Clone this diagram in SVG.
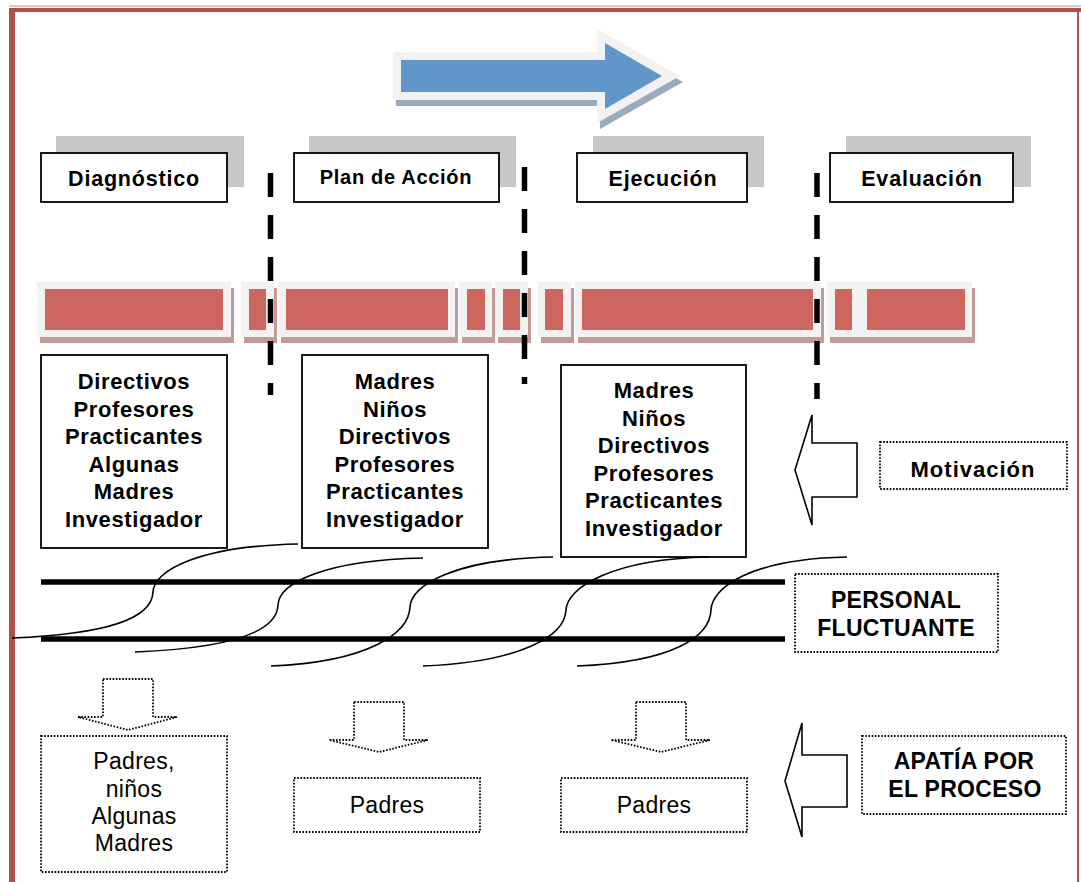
<svg xmlns="http://www.w3.org/2000/svg" width="1081" height="882" viewBox="0 0 1081 882">
<style>
.b{font-family:"Liberation Sans",Arial,sans-serif;font-weight:bold;text-anchor:middle;fill:#000}
.r{font-family:"Liberation Sans",Arial,sans-serif;text-anchor:middle;fill:#000}
.ph{font-size:21.5px;letter-spacing:0.8px}
.mb{font-size:22px;letter-spacing:0.6px}
.lb{font-size:23px;letter-spacing:0.3px}
.rg{font-size:23px;letter-spacing:0.3px}
.solid{fill:#fff;stroke:#000;stroke-width:1.8}
.dot{fill:#fff;stroke:#000;stroke-width:1.8;stroke-dasharray:1.6 1.6}
.shd{fill:#c8c8c8}
.vd{stroke:#000;stroke-width:5.5;stroke-dasharray:24 18;fill:none}
.thick{stroke:#000;stroke-width:5.5}
.crv{fill:none;stroke:#000;stroke-width:1.6}
.bs{fill:#c49a98}
.bo{fill:#f2f2f2}
.br{fill:#cd665f}
.hol{fill:#fff;stroke:#000;stroke-width:1.6;stroke-linejoin:miter}
</style>
<rect x="0" y="0" width="1081" height="882" fill="#fff"/>
<g id="frame">
<rect x="9" y="5" width="1072" height="2" fill="#e8c4c2"/>
<rect x="9" y="8" width="1072" height="4" fill="#b0504b"/>
<rect x="9" y="8" width="6" height="874" fill="#b0504b"/>
<rect x="1077" y="8" width="2" height="874" fill="#b0504b"/>
</g>
<g id="process-arrow">
<polygon points="393,52 597,52 597,29 680,76 597,123 597,100 393,100" fill="#9aabbd" transform="translate(3,6)"/>
<polygon points="393,52 597,52 597,29 680,76 597,123 597,100 393,100" fill="#f2f2f2"/>
<polygon points="401,60 605,60 605,43 662,76 605,109 605,92 401,92" fill="#6196c9"/>
</g>
<g id="phase-diagnostico">
<rect class="shd" x="56" y="136" width="188" height="51"/>
<rect class="solid" x="41" y="153" width="186" height="49"/>
<text class="b ph" x="134" y="186">Diagnóstico</text>
</g>
<g id="phase-plan">
<rect class="shd" x="309" y="136" width="207" height="51"/>
<rect class="solid" x="294" y="153" width="205" height="49"/>
<text class="b" x="396" y="184" style="font-size:20px;letter-spacing:0.7px">Plan de Acción</text>
</g>
<g id="phase-ejecucion">
<rect class="shd" x="593" y="136" width="171" height="51"/>
<rect class="solid" x="577" y="153" width="170" height="49"/>
<text class="b ph" x="663" y="186">Ejecución</text>
</g>
<g id="phase-evaluacion">
<rect class="shd" x="846" y="136" width="185" height="51"/>
<rect class="solid" x="830" y="153" width="183" height="49"/>
<text class="b ph" x="922" y="186">Evaluación</text>
</g>
<g id="timeline-bars">
<rect class="bs" x="40" y="288" width="194" height="55"/><rect class="bo" x="37" y="282" width="194" height="55"/><rect class="br" x="45" y="289" width="178" height="41"/>
<rect class="bs" x="244" y="288" width="33" height="55"/><rect class="bo" x="241" y="282" width="33" height="55"/><rect class="br" x="249" y="289" width="17" height="41"/>
<rect class="bs" x="281" y="288" width="177" height="55"/><rect class="bo" x="278" y="282" width="177" height="55"/><rect class="br" x="286" y="289" width="162" height="41"/>
<rect class="bs" x="462" y="288" width="33" height="55"/><rect class="bo" x="459" y="282" width="33" height="55"/><rect class="br" x="467" y="289" width="18" height="41"/>
<rect class="bs" x="498" y="288" width="33" height="55"/><rect class="bo" x="495" y="282" width="33" height="55"/><rect class="br" x="503" y="289" width="17" height="41"/>
<rect class="bs" x="541" y="288" width="33" height="55"/><rect class="bo" x="538" y="282" width="33" height="55"/><rect class="br" x="545" y="289" width="18" height="41"/>
<rect class="bs" x="578" y="288" width="246" height="55"/><rect class="bo" x="575" y="282" width="246" height="55"/><rect class="br" x="582" y="289" width="231" height="41"/>
<rect class="bs" x="830" y="288" width="35" height="55"/><rect class="bo" x="827" y="282" width="35" height="55"/><rect class="br" x="835" y="289" width="17" height="41"/>
<rect class="bs" x="862" y="288" width="113" height="55"/><rect class="bo" x="859" y="282" width="113" height="55"/><rect class="br" x="867" y="289" width="98" height="41"/>
</g>
<g id="separators">
<line class="vd" x1="270.5" y1="173" x2="270.5" y2="395"/>
<line class="vd" x1="524.5" y1="167" x2="524.5" y2="384"/>
<line class="vd" x1="817" y1="173" x2="817" y2="399"/>
</g>
<g id="members-diagnostico">
<rect class="solid" x="41" y="355" width="186" height="193"/>
<text class="b mb" x="134" y="389">Directivos</text>
<text class="b mb" x="134" y="416.5">Profesores</text>
<text class="b mb" x="134" y="444">Practicantes</text>
<text class="b mb" x="134" y="471.5">Algunas</text>
<text class="b mb" x="134" y="499">Madres</text>
<text class="b mb" x="134" y="526.5">Investigador</text>
</g>
<g id="members-plan">
<rect class="solid" x="302" y="355" width="186" height="193"/>
<text class="b mb" x="395" y="389">Madres</text>
<text class="b mb" x="395" y="416.5">Niños</text>
<text class="b mb" x="395" y="444">Directivos</text>
<text class="b mb" x="395" y="471.5">Profesores</text>
<text class="b mb" x="395" y="499">Practicantes</text>
<text class="b mb" x="395" y="526.5">Investigador</text>
</g>
<g id="members-ejecucion">
<rect class="solid" x="561" y="365" width="185" height="192"/>
<text class="b mb" x="654" y="398">Madres</text>
<text class="b mb" x="654" y="425.5">Niños</text>
<text class="b mb" x="654" y="453">Directivos</text>
<text class="b mb" x="654" y="480.5">Profesores</text>
<text class="b mb" x="654" y="508">Practicantes</text>
<text class="b mb" x="654" y="535.5">Investigador</text>
</g>
<g id="personal-flow">
<path class="crv" d="M12,638 C110,634 152,618 153,592 C154,570 200,546 298,544"/>
<path class="crv" d="M135,652 C233,648 277,631 278,605 C279,583 325,560 423,558"/>
<path class="crv" d="M271,666 C369,662 409,633 410,607 C411,585 455,559 553,557"/>
<path class="crv" d="M423,666 C521,662 565,636 566,610 C567,588 611,559 709,557"/>
<path class="crv" d="M577,666 C675,662 710,636 711,610 C712,588 749,559 847,557"/>
<line class="thick" x1="41" y1="582" x2="785" y2="582"/>
<line class="thick" x1="41" y1="639" x2="785" y2="639"/>
</g>
<g id="motivacion-arrow">
<polygon class="hol" points="795,470 812,415 812,443 857,443 857,497 812,497 812,525"/>
</g>
<g id="motivacion">
<rect class="dot" x="880" y="442" width="187" height="47"/>
<text class="b" x="973" y="477" style="font-size:22px;letter-spacing:1px">Motivación</text>
</g>
<g id="personal-fluctuante">
<rect class="dot" x="795" y="574" width="203" height="78"/>
<text class="b lb" x="896" y="608">PERSONAL</text>
<text class="b lb" x="896" y="636">FLUCTUANTE</text>
</g>
<g id="apatia-arrow">
<polygon class="hol" points="785,781 802,723 802,755 847,755 847,807 802,807 802,837"/>
</g>
<g id="apatia">
<rect class="dot" x="862" y="736" width="204" height="78"/>
<text class="b lb" x="964" y="769">APATÍA POR</text>
<text class="b lb" x="965" y="797">EL PROCESO</text>
</g>
<g id="down-arrows">
<polygon class="dot" points="103,679 153,679 153,717 177,717 128,730 78,717 103,717"/>
<polygon class="dot" points="354,702 404,702 404,740 428,740 379,752 329,740 354,740"/>
<polygon class="dot" points="636,702 686,702 686,740 710,740 661,752 611,740 636,740"/>
</g>
<g id="absent-diagnostico">
<rect class="dot" x="41" y="736" width="186" height="136"/>
<text class="r rg" x="134" y="769">Padres,</text>
<text class="r rg" x="134" y="796.5">niños</text>
<text class="r rg" x="134" y="824">Algunas</text>
<text class="r rg" x="134" y="851">Madres</text>
</g>
<g id="absent-plan">
<rect class="dot" x="294" y="778" width="186" height="54"/>
<text class="r rg" x="387" y="813">Padres</text>
</g>
<g id="absent-ejecucion">
<rect class="dot" x="561" y="778" width="186" height="54"/>
<text class="r rg" x="654" y="813">Padres</text>
</g>
</svg>
